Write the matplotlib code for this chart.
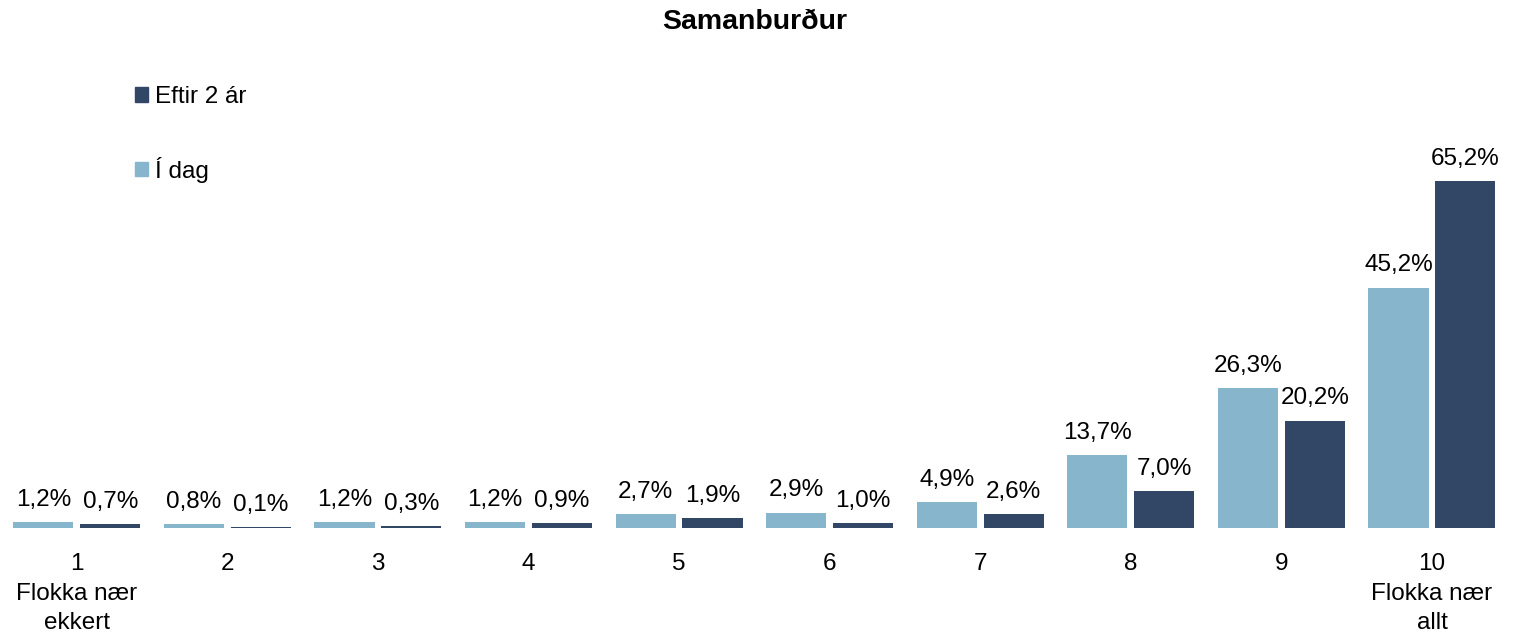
import matplotlib.pyplot as plt
import numpy as np
from matplotlib.patches import Patch

plt.rcParams['font.family'] = ['Liberation Sans', 'DejaVu Sans']

categories = ["1\nFlokka nær\nekkert", "2", "3", "4", "5", "6", "7", "8", "9", "10\nFlokka nær\nallt"]
i_dag = [1.2, 0.8, 1.2, 1.2, 2.7, 2.9, 4.9, 13.7, 26.3, 45.2]
eftir_2_ar = [0.7, 0.1, 0.3, 0.9, 1.9, 1.0, 2.6, 7.0, 20.2, 65.2]

light = "#87b5cc"
dark = "#324665"
fs = 17.5

fig = plt.figure(figsize=(15.24, 6.36), dpi=100)
ax = fig.add_axes([0.001, 0.1698, 0.988, 0.5855])

x = np.arange(len(categories))
w = 0.4
off = 0.222
b1 = ax.bar(x - off, i_dag, w, color=light)
b2 = ax.bar(x + off, eftir_2_ar, w, color=dark)

for bars, vals in ((b1, i_dag), (b2, eftir_2_ar)):
    for r, v in zip(bars, vals):
        ax.annotate(f"{v:.1f}%".replace(".", ","),
                    (r.get_x() + r.get_width() / 2, r.get_height()),
                    xytext=(0, 8), textcoords="offset points",
                    ha="center", va="bottom", fontsize=fs)

ax.set_xlim(-0.5, len(categories) - 0.5)
ax.set_ylim(0, 70)
ax.set_xticks(x)
ax.set_xticklabels(categories, fontsize=fs, linespacing=1.45)
ax.tick_params(axis="x", length=0, pad=18)
ax.set_yticks([])
for s in ax.spines.values():
    s.set_visible(False)

fig.text(0.4955, 0.966, "Samanburður", ha="center", va="center",
         fontsize=20.5, fontweight="bold")

handles = [Patch(color=dark, label="Eftir 2 ár"), Patch(color=light, label="Í dag")]
fig.legend(handles=handles, loc="upper left", bbox_to_anchor=(0.082, 0.88),
           frameon=False, fontsize=fs, handlelength=0.55, handleheight=0.55,
           handletextpad=0.3, labelspacing=2.0, borderaxespad=0)

fig.savefig("out.png", dpi=100)
